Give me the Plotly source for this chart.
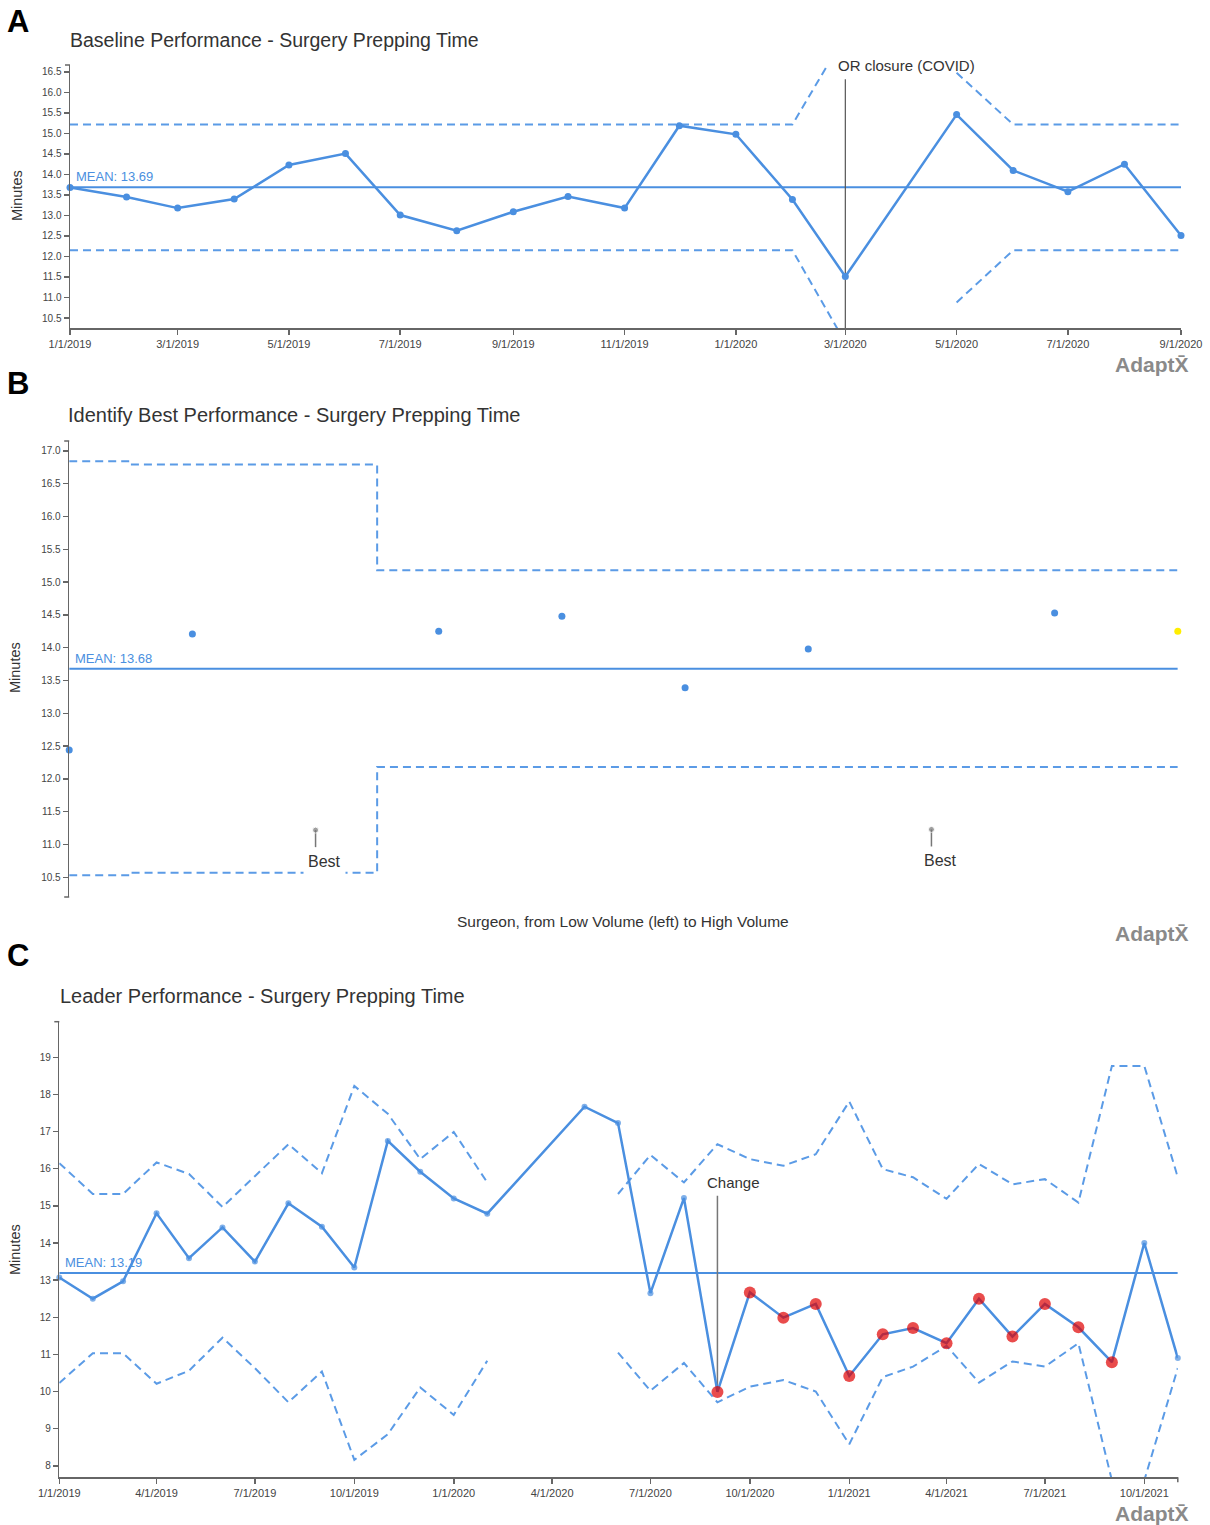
import plotly.graph_objects as go

# ---------------- DATA ----------------
# Panel A: Baseline Performance (monthly)
a_months = ["2019-01-01", "2019-02-01", "2019-03-01", "2019-04-01", "2019-05-01", "2019-06-01",
            "2019-07-01", "2019-08-01", "2019-09-01", "2019-10-01", "2019-11-01", "2019-12-01",
            "2020-01-01", "2020-02-01", "2020-03-01", "2020-04-01", "2020-05-01", "2020-06-01",
            "2020-07-01", "2020-08-01", "2020-09-01"]
a_values = [13.68, 13.45, 13.18, 13.40, 14.23, 14.51, 13.01, 12.63, 13.09, 13.46, 13.18, 15.19,
            14.98, 13.39, 11.51, None, 15.46, 14.10, 13.58, 14.25, 12.51]
a_ucl = [15.22, 15.22, 15.22, 15.22, 15.22, 15.22, 15.22, 15.22, 15.22, 15.22, 15.22, 15.22,
         15.22, 15.22, 17.40, None, 16.48, 15.22, 15.22, 15.22, 15.22]
a_lcl = [12.15, 12.15, 12.15, 12.15, 12.15, 12.15, 12.15, 12.15, 12.15, 12.15, 12.15, 12.15,
         12.15, 12.15, 9.90, None, 10.88, 12.15, 12.15, 12.15, 12.15]
a_mean = 13.69
a_event_date = "2020-03-01"
a_event_top = 16.32
a_event_label = "OR closure (COVID)"

# Panel B: surgeons from low to high volume
b_slots = [0, 1, 2, 3, 4, 5, 6, 7, 8, 9]
b_values = [12.44, 14.21, None, 14.25, 14.48, 13.39, 13.98, None, 14.53, 14.25]
b_highlight = [False, False, False, False, False, False, False, False, False, True]
b_best = [None, None, 11.22, None, None, None, None, 11.23, None, None]
b_ucl = [16.84, 16.79, 16.79, 15.18, 15.18, 15.18, 15.18, 15.18, 15.18, 15.18]
b_lcl = [10.53, 10.57, 10.57, 12.18, 12.18, 12.18, 12.18, 12.18, 12.18, 12.18]
b_mean = 13.68

# Panel C: Leader performance (monthly)
c_months = ["2019-01-01", "2019-02-01", "2019-03-01", "2019-04-01", "2019-05-01", "2019-06-01",
            "2019-07-01", "2019-08-01", "2019-09-01", "2019-10-01", "2019-11-01", "2019-12-01",
            "2020-01-01", "2020-02-01", "2020-03-01", "2020-04-01", "2020-05-01", "2020-06-01",
            "2020-07-01", "2020-08-01", "2020-09-01", "2020-10-01", "2020-11-01", "2020-12-01",
            "2021-01-01", "2021-02-01", "2021-03-01", "2021-04-01", "2021-05-01", "2021-06-01",
            "2021-07-01", "2021-08-01", "2021-09-01", "2021-10-01", "2021-11-01"]
c_values = [13.07, 12.50, 12.97, 14.80, 13.59, 14.42, 13.50, 15.07, 14.44, 13.34, 16.75, 15.92,
            15.20, 14.79, None, None, 17.67, 17.23, 12.65, 15.21, 9.99, 12.67, 11.99, 12.36,
            10.42, 11.54, 11.71, 11.30, 12.50, 11.48, 12.36, 11.73, 10.79, 14.00, 10.90]
c_flag = [False] * 20 + [True] * 13 + [False] * 2
c_ucl = [16.15, 15.32, 15.32, 16.17, 15.86, 14.97, 15.80, 16.66, 15.88, 18.23, 17.48, 16.26,
         16.99, 15.63, None, None, None, 15.32, 16.37, 15.63, 16.66, 16.26, 16.08, 16.39,
         17.81, 15.99, 15.77, 15.19, 16.13, 15.58, 15.72, 15.09, 18.77, 18.77, 15.77]
c_lcl = [10.23, 11.03, 11.03, 10.21, 10.56, 11.45, 10.63, 9.71, 10.54, 8.16, 8.85, 10.11,
         9.37, 10.83, None, None, None, 11.05, 10.02, 10.77, 9.71, 10.13, 10.31, 10.00,
         8.58, 10.39, 10.67, 11.23, 10.24, 10.81, 10.67, 11.30, 7.61, 7.61, 10.63]
c_mean = 13.19
c_event_date = "2020-09-01"
c_event_top = 15.27
c_event_bottom = 9.99
c_event_label = "Change"

# ---------------- STYLE ----------------
W, H = 1210, 1525
FONT = "Liberation Sans, Arial, Helvetica, sans-serif"
BLUE = "#4a8fe0"
LIMIT_BLUE = "#5b9be6"
RED = "#e00000"
YELLOW = "#ffee00"
AXIS = "#666666"
TEXT = "#333333"
DASH = "8px,5px"


def fx(p):
    return p / W


def fy(p):
    return 1 - p / H


fig = go.Figure()

# ----- Panel A -----
fig.add_trace(go.Scatter(x=a_months, y=a_ucl, mode="lines", connectgaps=False,
                         line=dict(color=LIMIT_BLUE, width=2, dash=DASH), xaxis="x", yaxis="y"))
fig.add_trace(go.Scatter(x=a_months, y=a_lcl, mode="lines", connectgaps=False,
                         line=dict(color=LIMIT_BLUE, width=2, dash=DASH), xaxis="x", yaxis="y"))
fig.add_trace(go.Scatter(x=[a_months[0], a_months[-1]], y=[a_mean, a_mean], mode="lines",
                         line=dict(color=BLUE, width=2), xaxis="x", yaxis="y"))
fig.add_trace(go.Scatter(x=[a_event_date, a_event_date], y=[a_event_top, 10.256], mode="lines",
                         line=dict(color="#555555", width=1.2), xaxis="x", yaxis="y"))
fig.add_trace(go.Scatter(x=a_months, y=a_values, mode="lines+markers", connectgaps=True,
                         cliponaxis=False,
                         line=dict(color=BLUE, width=2.5), marker=dict(color=BLUE, size=7),
                         xaxis="x", yaxis="y"))

# ----- Panel B -----
fig.add_trace(go.Scatter(x=b_slots, y=b_ucl, mode="lines", line_shape="hvh",
                         line=dict(color=LIMIT_BLUE, width=2, dash=DASH), xaxis="x2", yaxis="y2"))
fig.add_trace(go.Scatter(x=b_slots, y=b_lcl, mode="lines", line_shape="hvh",
                         line=dict(color=LIMIT_BLUE, width=2, dash=DASH), xaxis="x2", yaxis="y2"))
fig.add_trace(go.Scatter(x=[b_slots[0], b_slots[-1]], y=[b_mean, b_mean], mode="lines",
                         line=dict(color=BLUE, width=2), xaxis="x2", yaxis="y2"))
fig.add_trace(go.Scatter(x=b_slots, y=b_values, mode="markers", cliponaxis=False,
                         marker=dict(color=[YELLOW if h else BLUE for h in b_highlight], size=7),
                         xaxis="x2", yaxis="y2"))
for s, v in zip(b_slots, b_best):
    if v is None:
        continue
    fig.add_trace(go.Scatter(x=[s, s], y=[v, v - 0.26], mode="lines+markers",
                             line=dict(color="#777777", width=1.5),
                             marker=dict(color="#777777", size=[6, 0]),
                             xaxis="x2", yaxis="y2"))
    fig.add_annotation(x=s, y=v - 0.26, xref="x2", yref="y2", text="Best", showarrow=False,
                       xanchor="center", yanchor="top", xshift=9, yshift=-1,
                       bgcolor="white", borderpad=4,
                       font=dict(family=FONT, size=16, color=TEXT))

# ----- Panel C -----
fig.add_trace(go.Scatter(x=c_months, y=c_ucl, mode="lines", connectgaps=False,
                         line=dict(color=LIMIT_BLUE, width=2, dash=DASH), xaxis="x3", yaxis="y3"))
fig.add_trace(go.Scatter(x=c_months, y=c_lcl, mode="lines", connectgaps=False,
                         line=dict(color=LIMIT_BLUE, width=2, dash=DASH), xaxis="x3", yaxis="y3"))
fig.add_trace(go.Scatter(x=[c_months[0], c_months[-1]], y=[c_mean, c_mean], mode="lines",
                         line=dict(color=BLUE, width=2), xaxis="x3", yaxis="y3"))
fig.add_trace(go.Scatter(x=[c_event_date, c_event_date], y=[c_event_top, c_event_bottom],
                         mode="lines", line=dict(color="#777777", width=1.5),
                         xaxis="x3", yaxis="y3"))
fig.add_trace(go.Scatter(x=c_months, y=c_values, mode="lines+markers", connectgaps=True,
                         cliponaxis=False,
                         line=dict(color=BLUE, width=2.5),
                         marker=dict(color=[RED if f else BLUE for f in c_flag],
                                     size=[12 if f else 6 for f in c_flag],
                                     line=dict(width=0)),
                         xaxis="x3", yaxis="y3"))

# ---------------- AXES ----------------
tickfont_x = dict(family=FONT, size=11, color="#444444")
tickfont_y = dict(family=FONT, size=10, color="#444444")
common = dict(showgrid=False, zeroline=False, showline=True, linecolor=AXIS, linewidth=1.5,
              ticks="outside", ticklen=5, tickwidth=1.5, tickcolor=AXIS, fixedrange=True,
              automargin=False)

fig.update_layout(
    template="none",
    xaxis=dict(domain=[fx(70), fx(1181)], range=[a_months[0], a_months[-1]], type="date",
               tickformat="%-m/%-d/%Y", dtick="M2", tick0="2019-01-01", anchor="y",
               tickfont=tickfont_x, **common),
    yaxis=dict(domain=[fy(328), fy(65)], range=[10.256, 16.67], dtick=0.5, tick0=10.5,
               tickformat=".1f", anchor="x", tickfont=tickfont_y, **common),
    xaxis2=dict(domain=[fx(69.2), fx(1177.8)], range=[0, 9], anchor="y2", visible=False,
                fixedrange=True, automargin=False),
    yaxis2=dict(domain=[fy(897), fy(441)], range=[10.2, 17.15], dtick=0.5, tick0=10.5,
                tickformat=".1f", anchor="x2", tickfont=tickfont_y, **common),
    xaxis3=dict(domain=[fx(59.3), fx(1177.8)], range=[c_months[0], c_months[-1]], type="date",
                tickformat="%-m/%-d/%Y", dtick="M3", tick0="2019-01-01", anchor="y3",
                tickfont=tickfont_x, **common),
    yaxis3=dict(domain=[fy(1477.3), fy(1021.7)], range=[7.69, 19.96], dtick=1, tick0=8,
                anchor="x3", tickfont=tickfont_y, **common),
)

# outer domain ticks (d3 style)
def outer_tick_y(xd, yd, at):
    fig.add_shape(type="line", xref=xd, yref=yd, xsizemode="pixel", xanchor=0,
                  x0=-5, x1=0, y0=at, y1=at, line=dict(color=AXIS, width=1.5))

outer_tick_y("x domain", "y domain", 1)
outer_tick_y("x2 domain", "y2 domain", 1)
outer_tick_y("x2 domain", "y2 domain", 0)
outer_tick_y("x3 domain", "y3 domain", 1)
fig.add_shape(type="line", xref="x3 domain", yref="y3 domain", ysizemode="pixel", yanchor=0,
              x0=1, x1=1, y0=0, y1=-5, line=dict(color=AXIS, width=1.5))

# ---------------- TEXT ----------------
def label(text, x, y, size, color=TEXT, xanchor="left", bold=False, angle=0):
    fig.add_annotation(text=f"<b>{text}</b>" if bold else text, x=fx(x), y=fy(y),
                       xref="paper", yref="paper", showarrow=False, xanchor=xanchor,
                       yanchor="middle", textangle=angle,
                       font=dict(family=FONT, size=size, color=color))

label("A", 5, 21, 31, "#000000", bold=True)
label("B", 5, 383, 31, "#000000", bold=True)
label("C", 5, 955, 31, "#000000", bold=True)

label("Baseline Performance - Surgery Prepping Time", 68, 40, 19.5)
label("Identify Best Performance - Surgery Prepping Time", 66, 415, 20)
label("Leader Performance - Surgery Prepping Time", 58, 996, 20)

label("Minutes", 17, 196, 14.5, xanchor="center", angle=-90)
label("Minutes", 15, 668, 14.5, xanchor="center", angle=-90)
label("Minutes", 15, 1250, 14.5, xanchor="center", angle=-90)

label("Surgeon, from Low Volume (left) to High Volume", 623, 921, 15.5, xanchor="center")

for yy in (364, 934, 1513):
    label("AdaptX\u0304", 1191, yy, 21, "#8a8a8a", xanchor="right", bold=True)

# mean labels
for xr, yr, xv, mv in (("x", "y", a_months[0], a_mean), ("x2", "y2", b_slots[0], b_mean),
                       ("x3", "y3", c_months[0], c_mean)):
    fig.add_annotation(x=xv, y=mv, xref=xr, yref=yr, text=f"MEAN: {mv:.2f}", showarrow=False,
                       xanchor="left", yanchor="bottom", xshift=4, yshift=1,
                       font=dict(family=FONT, size=13, color=BLUE))

# event labels
fig.add_annotation(x=a_event_date, y=a_event_top, xref="x", yref="y", text=a_event_label,
                   showarrow=False, xanchor="left", yanchor="bottom", xshift=-9, yshift=3,
                   font=dict(family=FONT, size=15, color=TEXT))
fig.add_annotation(x=c_event_date, y=c_event_top, xref="x3", yref="y3", text=c_event_label,
                   showarrow=False, xanchor="left", yanchor="bottom", xshift=-12, yshift=3,
                   font=dict(family=FONT, size=15, color=TEXT))

fig.update_layout(width=W, height=H, margin=dict(l=0, r=0, t=0, b=0, pad=0),
                  paper_bgcolor="white", plot_bgcolor="white", showlegend=False,
                  font=dict(family=FONT))

fig.write_html("out.html", config={"displayModeBar": False, "staticPlot": True},
               post_script="document.body.style.margin='0';document.body.style.overflow='hidden';")
